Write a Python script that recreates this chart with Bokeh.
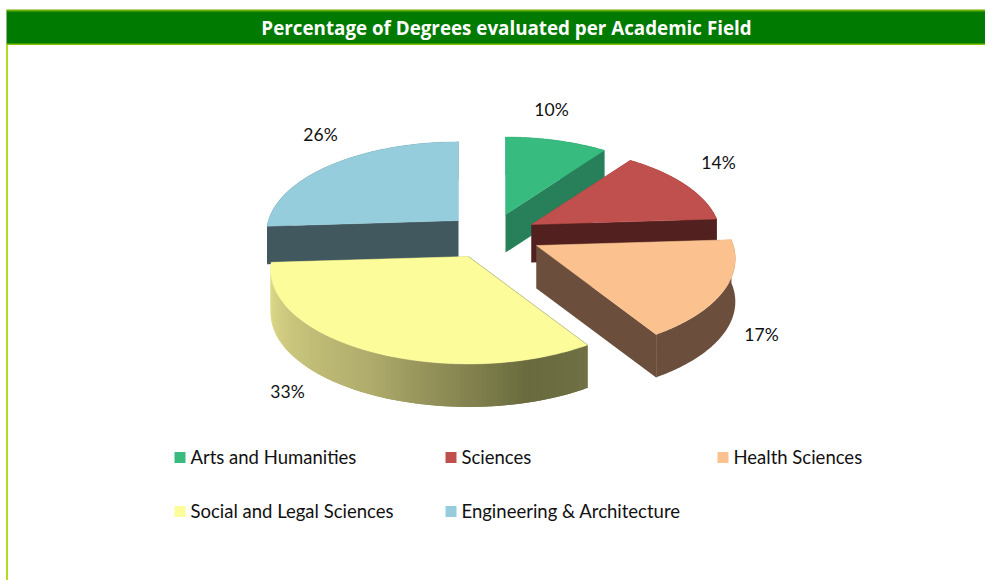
import numpy as np
from bokeh.plotting import figure
from bokeh.embed import file_html
from bokeh.resources import INLINE
from bokeh.core.properties import value

# ---- data ----
title = "Percentage of Degrees evaluated per Academic Field"
categories = ["Arts and Humanities", "Sciences", "Health Sciences",
              "Social and  Legal Sciences", "Engineering & Architecture"]
values = [10, 14, 17, 33, 26]

# ---- style ----
top_colors = ["#38BB7F", "#C0504D", "#FBC290", "#FCFC9A", "#95CDDC"]
wall_colors = ["#27805A", "#52211F", "#6B4E3C", None, "#42585F"]
social_stops = [(0.0, (226, 223, 141)), (0.5, (176, 172, 108)), (0.86, (105, 106, 62)), (1.0, (111, 112, 68))]
apex = [(505, 214), (531, 224), (536, 245), (468, 256), (458, 220)]
scale = [0.97, 0.97, 1.02, 1.015, 0.985]
depth = [38, 38, 43, 43, 38]
label_pos = [(551, 109), (718, 162), (761, 334), (287, 391), (320, 134)]
legend_pos = [(174, 456), (445, 456), (717, 456), (174, 510), (445, 510)]
A, B, K = 193.0, 91.0, 0.14
draw_order = [4, 0, 1, 2, 3]

p = figure(width=985, height=580, x_range=(0, 985), y_range=(580, 0),
           output_backend="svg", toolbar_location=None, min_border=0,
           outline_line_color=None, background_fill_color="white",
           border_fill_color="white")
p.xaxis.visible = False
p.yaxis.visible = False
p.grid.visible = False

# frame and title band
p.quad(left=6, right=985, top=10, bottom=44, fill_color="#007A00", line_color=None)
p.quad(left=6, right=985, top=9, bottom=11, fill_color="#6AAD00", line_color=None)
p.quad(left=6, right=985, top=43, bottom=44.5, fill_color="#80C000", line_color=None)
p.quad(left=5.5, right=7.5, top=44.5, bottom=580, fill_color="#B2DC20", line_color=None)
p.text([506], [27], text=[title], text_color="white", text_font=value("Open Sans"),
       text_font_style="bold", text_font_size="18.8px", text_align="center", text_baseline="middle")


def project(theta, i):
    s, c = np.sin(theta), np.cos(theta)
    w = 1 + K * c
    return apex[i][0] + scale[i] * A * s / w, apex[i][1] - scale[i] * B * c / w


fractions = np.cumsum([0] + values) / sum(values)
for i in draw_order:
    t0, t1 = 2 * np.pi * fractions[i], 2 * np.pi * fractions[i + 1]
    th = np.linspace(t0, t1, 91)
    xs, ys = project(th, i)
    ax, ay = apex[i]
    d = depth[i]
    radial = wall_colors[i] or "#6F7044"
    for x_end, y_end in [(xs[0], ys[0]), (xs[-1], ys[-1])]:
        p.patch([ax, x_end, x_end, ax], [ay, y_end, y_end + d, ay + d],
                fill_color=radial, line_color=None)
    if wall_colors[i] is None:
        # gradient wall: overlapping strips, so that no seams show
        for j in range(len(th) - 2):
            f = 1 - j / (len(th) - 3)
            pos = [s[0] for s in social_stops]
            col = [int(round(np.interp(f, pos, [s[1][k] for s in social_stops]))) for k in range(3)]
            color = "#%02X%02X%02X" % tuple(col)
            p.patch([xs[j], xs[j + 2], xs[j + 2], xs[j]],
                    [ys[j], ys[j + 2], ys[j + 2] + d, ys[j] + d],
                    fill_color=color, line_color=None)
    else:
        p.patch(np.r_[xs, xs[::-1]], np.r_[ys, ys[::-1] + d],
                fill_color=wall_colors[i], line_color=None)
    p.patch(np.r_[ax, xs], np.r_[ay, ys], fill_color=top_colors[i], line_color=top_colors[i], line_width=0.5)

# faint edge highlights
t = 2 * np.pi * fractions[3]
ex, ey = project(t, 3)
p.line([apex[3][0], ex], [apex[3][1], ey], line_color="#C4C49A", line_width=1)

p.text([q[0] for q in label_pos], [q[1] for q in label_pos], text=[f"{v}%" for v in values],
       text_color="#111111", text_font=value("Lato"), text_font_size="17.5px",
       text_align="center", text_baseline="middle")

p.scatter([q[0] + 5.5 for q in legend_pos], [q[1] + 1 for q in legend_pos], marker="square", size=11,
          fill_color=top_colors, line_color=None)
p.text([q[0] + 16 for q in legend_pos], [q[1] for q in legend_pos], text=categories,
       text_color="#111111", text_font=value("Lato"), text_font_size="18.5px",
       text_align="left", text_baseline="middle")

open("out.html", "w").write(file_html(p, INLINE))
